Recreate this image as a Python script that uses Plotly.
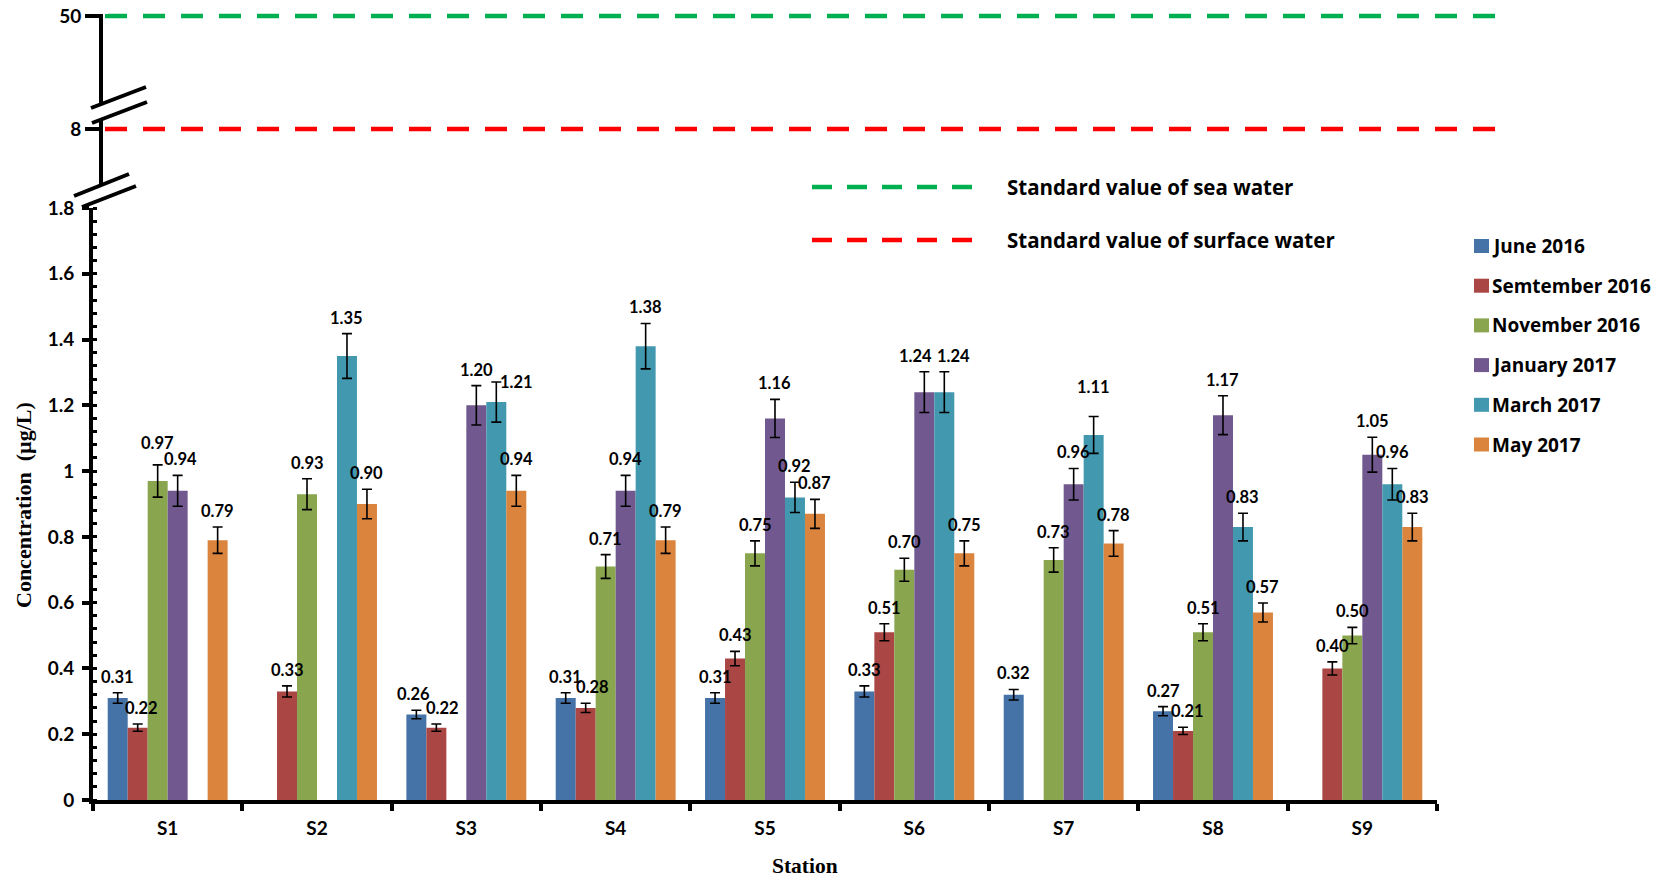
import plotly.graph_objects as go

W, H = 1656, 879

stations = ["S1", "S2", "S3", "S4", "S5", "S6", "S7", "S8", "S9"]

june_2016 = [0.31, None, 0.26, 0.31, 0.31, 0.33, 0.32, 0.27, None]
sep_2016 = [0.22, 0.33, 0.22, 0.28, 0.43, 0.51, None, 0.21, 0.40]
nov_2016 = [0.97, 0.93, None, 0.71, 0.75, 0.70, 0.73, 0.51, 0.50]
jan_2017 = [0.94, None, 1.20, 0.94, 1.16, 1.24, 0.96, 1.17, 1.05]
mar_2017 = [None, 1.35, 1.21, 1.38, 0.92, 1.24, 1.11, 0.83, 0.96]
may_2017 = [0.79, 0.90, 0.94, 0.79, 0.87, 0.75, 0.78, 0.57, 0.83]

june_err = [0.016, 0, 0.013, 0.016, 0.016, 0.017, 0.016, 0.014, 0]
sep_err = [0.011, 0.017, 0.011, 0.014, 0.022, 0.026, 0, 0.011, 0.020]
nov_err = [0.049, 0.047, 0, 0.036, 0.038, 0.035, 0.037, 0.026, 0.025]
jan_err = [0.047, 0, 0.060, 0.047, 0.058, 0.062, 0.048, 0.059, 0.053]
mar_err = [0, 0.068, 0.061, 0.069, 0.046, 0.062, 0.056, 0.042, 0.048]
may_err = [0.040, 0.045, 0.047, 0.040, 0.044, 0.038, 0.039, 0.029, 0.042]

series_names = ["June 2016", "Semtember 2016", "November 2016",
                "January 2017", "March 2017", "May 2017"]
series_values = [june_2016, sep_2016, nov_2016, jan_2017, mar_2017, may_2017]
series_errors = [june_err, sep_err, nov_err, jan_err, mar_err, may_err]
series_colors = ["#4572A7", "#AA4643", "#89A54E", "#71588F", "#4198AF", "#DB843D"]

y_ticks = [0, 0.2, 0.4, 0.6, 0.8, 1.0, 1.2, 1.4, 1.6, 1.8]
upper_ticks = [8, 50]
sea_water_standard = 50
surface_water_standard = 8
standard_names = ["Standard value of sea water", "Standard value of surface water"]
standard_colors = ["#00B050", "#FF0000"]

# Hand-placed offsets (px) for value labels that would otherwise collide
label_nudge = {
    (4, 2): (20, -16),   # March 2017, S3
    (3, 5): (-9, 0),     # January 2017, S6
    (4, 5): (9, 0),      # March 2017, S6
    (1, 3): (7, 0),      # September 2016, S4
    (1, 0): (4, 0),      # September 2016, S1
    (1, 7): (4, 0),      # September 2016, S8
    (0, 2): (-3, 0),     # June 2016, S3
    (1, 2): (6, 0),      # September 2016, S3
    (3, 0): (3, 0),      # January 2017, S1
    (4, 6): (0, 14),     # March 2017, S7
    (2, 0): (0, 6),      # November 2016, S1
}

BOLD = dict(family="Lato", weight="bold", color="#000000")
SANS = dict(family="Open Sans", weight="bold", color="#000000")
SERIF = dict(family="Liberation Serif", weight="bold", color="#000000")


def px_x(x):
    return x / W


def px_y(y):
    return 1 - y / H


BARGAP = 0.197
n_series = len(series_names)
bar_w = (1 - BARGAP) / n_series

fig = go.Figure()

annotations = []
for i, (name, vals, errs, col) in enumerate(zip(series_names, series_values,
                                                 series_errors, series_colors)):
    fig.add_trace(go.Bar(
        x=stations, y=vals, name=name, marker=dict(color=col, line=dict(width=0)),
        error_y=dict(type="data", array=errs, visible=True, color="#000000",
                     thickness=1.6, width=5),
        showlegend=False,
    ))
    offset = -(1 - BARGAP) / 2 + (i + 0.5) * bar_w
    for k, (v, e) in enumerate(zip(vals, errs)):
        if v is None:
            continue
        dx, dy = label_nudge.get((i, k), (0, 0))
        annotations.append(dict(
            x=k + offset, y=v + e, xref="x", yref="y", text=f"{v:.2f}",
            showarrow=False, yanchor="bottom", xanchor="center",
            xshift=dx, yshift=4 + dy,
            font=dict(size=16.5, **BOLD),
        ))

# Standard value lines on the upper (broken) axis segment
for val, col, nm in [(sea_water_standard, standard_colors[0], standard_names[0]),
                     (surface_water_standard, standard_colors[1], standard_names[1])]:
    fig.add_trace(go.Scatter(
        x=[0, 1], y=[val, val], xaxis="x2", yaxis="y2", mode="lines",
        line=dict(color=col, width=4.5, dash="22px,16px"),
        name=nm, showlegend=False, hoverinfo="skip",
    ))

# Upper segment geometry: 8 sits at y=129px, 50 at y=16px
up_top_px, up_bot_px = 13, 190
units_per_px = (50 - 8) / (129 - 16)
up_min = 8 - (up_bot_px - 129) * units_per_px
up_max = 50 + (16 - up_top_px) * units_per_px

shapes = []

# Break marks (white mask + two slanted strokes)
def break_mark(l1, l2):
    (a, b), (c, d) = l1
    (e, f), (g, h) = l2
    path = (f"M{px_x(a)},{px_y(b)} L{px_x(c)},{px_y(d)} "
            f"L{px_x(g)},{px_y(h)} L{px_x(e)},{px_y(f)} Z")
    out = [dict(type="path", path=path, xref="paper", yref="paper",
                fillcolor="white", line=dict(width=0), layer="above")]
    for (x0, y0), (x1, y1) in (l1, l2):
        out.append(dict(type="line", xref="paper", yref="paper",
                        x0=px_x(x0), y0=px_y(y0), x1=px_x(x1), y1=px_y(y1),
                        line=dict(color="black", width=4), layer="above"))
    return out

shapes += break_mark(((91, 108), (146, 87)), ((92, 123), (147, 102)))
shapes += break_mark(((74, 196), (129, 174)), ((82, 207), (136, 186)))
# Mask the upper axis line above the 50 tick
shapes.append(dict(type="rect", xref="paper", yref="paper",
                   x0=px_x(95), x1=px_x(108), y0=px_y(14), y1=px_y(0),
                   fillcolor="white", line=dict(width=0), layer="above"))

# Key for the standard value lines
for (ky, col, nm) in [(187, standard_colors[0], standard_names[0]),
                      (240, standard_colors[1], standard_names[1])]:
    shapes.append(dict(type="line", xref="paper", yref="paper",
                       x0=px_x(812), x1=px_x(972), y0=px_y(ky), y1=px_y(ky),
                       line=dict(color=col, width=4.5, dash="20px,15px")))
    annotations.append(dict(x=px_x(1005), y=px_y(ky), xref="paper", yref="paper",
                            text=nm, showarrow=False, xanchor="left",
                            yanchor="middle", font=dict(size=20.5, **SANS)))

# Key for the sampling campaigns
for i, (nm, col) in enumerate(zip(series_names, series_colors)):
    cy = 246 + i * 39.7
    shapes.append(dict(type="rect", xref="paper", yref="paper",
                       x0=px_x(1474), x1=px_x(1489), y0=px_y(cy - 7), y1=px_y(cy + 7),
                       fillcolor=col, line=dict(width=0)))
    annotations.append(dict(x=px_x(1490), y=px_y(cy), xref="paper", yref="paper",
                            text=nm, showarrow=False, xanchor="left",
                            yanchor="middle", font=dict(size=19, **SANS)))

# Axis titles
annotations.append(dict(x=px_x(23), y=px_y(505), xref="paper", yref="paper",
                        text="Concentration\u00a0\u00a0(\u00b5g/L)", textangle=-90,
                        showarrow=False, xanchor="center", yanchor="middle",
                        font=dict(size=22, **SERIF)))
annotations.append(dict(x=px_x(805), y=px_y(866), xref="paper", yref="paper",
                        text="Station", showarrow=False, xanchor="center",
                        yanchor="middle", font=dict(size=21.5, **SERIF)))

fig.update_layout(
    width=W, height=H,
    margin=dict(l=0, r=0, t=0, b=0, autoexpand=False),
    paper_bgcolor="white", plot_bgcolor="white",
    barmode="group", bargap=BARGAP, bargroupgap=0,
    showlegend=False,
    xaxis=dict(
        domain=[px_x(93), px_x(1437)], type="category",
        showline=True, linecolor="black", linewidth=4,
        ticks="outside", tickson="boundaries", ticklen=7, tickwidth=4,
        tickcolor="black", showgrid=False, zeroline=False,
        tickfont=dict(size=19, **BOLD), ticklabelstandoff=8,
        anchor="y", automargin=False,
    ),
    yaxis=dict(
        domain=[px_y(800), px_y(208)], range=[0, 1.8],
        tickvals=y_ticks, ticktext=[f"{t:g}" for t in y_ticks],
        showline=True, linecolor="black", linewidth=4,
        ticks="outside", ticklen=7, tickwidth=4, tickcolor="black",
        minor=dict(ticks="inside", dtick=0.04, ticklen=4, tickwidth=3,
                   tickcolor="black", showgrid=False),
        showgrid=False, zeroline=False,
        tickfont=dict(size=19, **BOLD), ticklabelstandoff=4,
        anchor="x", automargin=False,
    ),
    xaxis2=dict(domain=[px_x(105), px_x(1507)], range=[0, 1], visible=False,
                anchor="y2", fixedrange=True, automargin=False),
    yaxis2=dict(
        domain=[px_y(up_bot_px), px_y(up_top_px)], range=[up_min, up_max],
        tickvals=upper_ticks, ticktext=[str(t) for t in upper_ticks],
        anchor="free", position=px_x(101),
        showline=True, linecolor="black", linewidth=4,
        ticks="outside", ticklen=14, tickwidth=4, tickcolor="black",
        showgrid=False, zeroline=False,
        tickfont=dict(size=19, **BOLD), ticklabelstandoff=0,
        automargin=False,
    ),
    shapes=shapes,
    annotations=annotations,
)

fig.write_html("out.html")
